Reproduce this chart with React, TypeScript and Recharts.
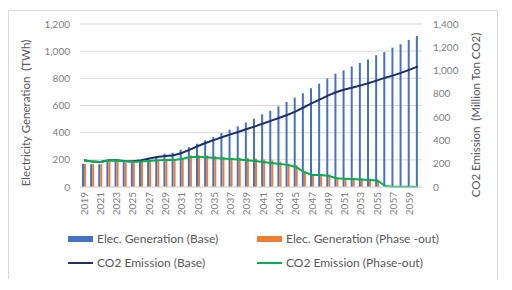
import React from "react";
import { Bar, CartesianGrid, ComposedChart, Line, XAxis, YAxis } from "recharts";

const BLUE = "#4472c4";
const ORANGE = "#ed7d31";
const NAVY = "#1f2f6b";
const GREEN = "#00b050";
const GRID = "#d9d9d9";
const TICK = "#7f7f7f";
const TEXT = "#595959";
const FONT = "Lato, 'Liberation Sans', sans-serif";

const years = [
  2019, 2020, 2021, 2022, 2023, 2024, 2025, 2026, 2027, 2028, 2029, 2030, 2031, 2032,
  2033, 2034, 2035, 2036, 2037, 2038, 2039, 2040, 2041, 2042, 2043, 2044, 2045, 2046,
  2047, 2048, 2049, 2050, 2051, 2052, 2053, 2054, 2055, 2056, 2057, 2058, 2059, 2060,
];

// TWh
const genBase = [
  172, 168, 168, 189, 189, 183, 176, 196, 213, 228, 245, 253, 275, 294,
  318, 344, 368, 398, 422, 447, 474, 503, 535, 562, 594, 626, 658, 690,
  727, 761, 798, 835, 859, 888, 913, 938, 970, 994, 1026, 1051, 1083, 1112,
];
const genPhaseOut = [
  172, 168, 168, 189, 189, 180, 176, 185, 192, 195, 200, 200, 205, 233,
  233, 232, 228, 221, 216, 216, 214, 209, 202, 197, 187, 172, 160, 116,
  96, 96, 92, 72, 67, 66, 62, 60, 54, 0, 0, 0, 0, 0,
];

// Million ton CO2
const co2Base = [
  229, 218, 215, 229, 229, 224, 221, 229, 244, 258, 267, 272, 292, 321,
  352, 380, 405, 430, 452, 475, 498, 521, 545, 570, 595, 620, 650, 685,
  720, 753, 787, 816, 837, 854, 873, 893, 916, 939, 959, 982, 1008, 1036,
];
const co2PhaseOut = [
  229, 218, 215, 229, 226, 221, 215, 218, 224, 229, 232, 232, 240, 258,
  258, 255, 250, 245, 240, 236, 230, 224, 215, 206, 197, 190, 172, 130,
  104, 103, 96, 75, 70, 68, 65, 61, 56, 8, 3, 2, 2, 2,
];

const leftTicks = [0, 200, 400, 600, 800, 1000, 1200];
const rightTicks = [0, 200, 400, 600, 800, 1000, 1200, 1400];

const data = years.map((y, i) => ({
  year: String(y),
  genBase: genBase[i],
  genPhaseOut: genPhaseOut[i],
  co2Base: co2Base[i],
  co2PhaseOut: co2PhaseOut[i],
}));

const fmt = (v: number) => v.toLocaleString("en-US");

function YearTick({ x, y, payload }: any) {
  return (
    <text
      x={x}
      y={y}
      transform={`rotate(-90, ${x}, ${y})`}
      textAnchor="end"
      dy="0.35em"
      fill={TICK}
      fontSize={10}
      fontFamily={FONT}
    >
      {payload.value}
    </text>
  );
}

function LegendItem({ left, top, color, line, label }: any) {
  return (
    <div style={{ position: "absolute", left, top, display: "flex", alignItems: "center" }}>
      <span
        style={{
          display: "inline-block",
          width: 25,
          height: line ? 2 : 6,
          background: color,
          marginRight: 4,
        }}
      />
      <span style={{ fontSize: 12, color: TEXT, fontFamily: FONT, whiteSpace: "nowrap" }}>
        {label}
      </span>
    </div>
  );
}

const titleStyle: React.CSSProperties = {
  position: "absolute",
  transform: "translate(-50%, -50%) rotate(-90deg)",
  whiteSpace: "nowrap",
  fontSize: 11.5,
  color: TEXT,
  fontFamily: FONT,
};

export default function App() {
  return (
    <div
      style={{
        position: "relative",
        top: 2,
        width: 488,
        height: 269,
        border: `1px solid ${GRID}`,
        background: "#fff",
      }}
    >
      <ComposedChart
        width={488}
        height={208}
        data={data}
        margin={{ top: 13, right: 0, bottom: 0, left: 0 }}
        barGap={0}
      >
        <CartesianGrid yAxisId="left" stroke={GRID} vertical={false} />
        <XAxis
          dataKey="year"
          interval={1}
          tick={<YearTick />}
          tickLine={false}
          axisLine={{ stroke: GRID }}
          height={32}
          tickMargin={0}
          tickSize={5}
        />
        <YAxis
          yAxisId="left"
          domain={[0, 1200]}
          ticks={leftTicks}
          tickFormatter={fmt}
          width={71}
          tickLine={false}
          axisLine={false}
          tickMargin={4}
          tick={{ fill: TICK, fontSize: 10, fontFamily: FONT }}
        />
        <YAxis
          yAxisId="right"
          orientation="right"
          domain={[0, 1400]}
          ticks={rightTicks}
          tickFormatter={fmt}
          width={75}
          tickLine={false}
          axisLine={false}
          tickMargin={5}
          tick={{ fill: TICK, fontSize: 10, fontFamily: FONT }}
        />
        <Bar yAxisId="left" dataKey="genBase" fill={BLUE} barSize={2} isAnimationActive={false} />
        <Bar yAxisId="left" dataKey="genPhaseOut" fill={ORANGE} barSize={2} isAnimationActive={false} />
        <Line
          yAxisId="right"
          dataKey="co2Base"
          stroke={NAVY}
          strokeWidth={2}
          dot={false}
          type="linear"
          isAnimationActive={false}
        />
        <Line
          yAxisId="right"
          dataKey="co2PhaseOut"
          stroke={GREEN}
          strokeWidth={2}
          dot={false}
          type="linear"
          isAnimationActive={false}
        />
      </ComposedChart>

      <div style={{ ...titleStyle, left: 16, top: 102 }}>Electricity Generation&nbsp; (TWh)</div>
      <div style={{ ...titleStyle, left: 466, top: 104 }}>CO2 Emission&nbsp; (Million Ton CO2)</div>

      <LegendItem left={59} top={220} color={BLUE} label="Elec. Generation (Base)" />
      <LegendItem left={248} top={220} color={ORANGE} label="Elec. Generation (Phase -out)" />
      <LegendItem left={59} top={244} color={NAVY} line label="CO2 Emission (Base)" />
      <LegendItem left={248} top={244} color={GREEN} line label="CO2 Emission (Phase-out)" />
    </div>
  );
}
